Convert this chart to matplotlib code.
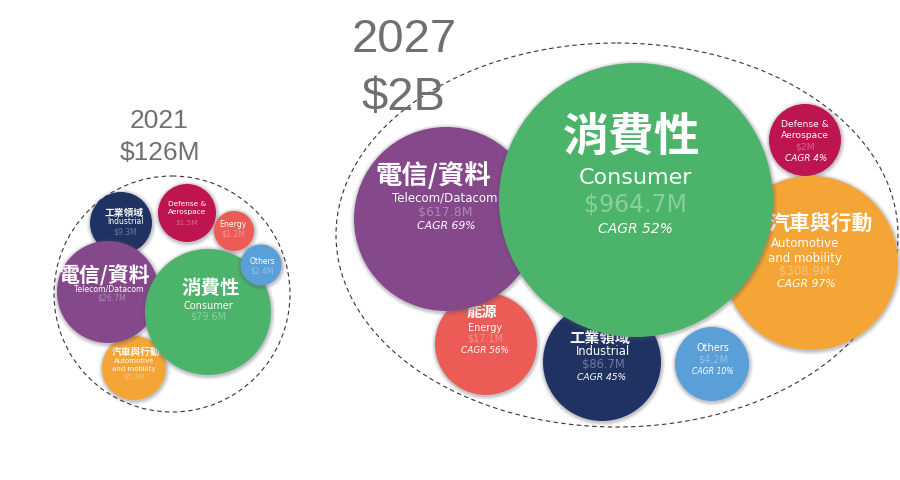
import matplotlib
matplotlib.use("Agg")
import matplotlib.pyplot as plt
from matplotlib.patches import Circle, Ellipse

# --- data ---
categories_en = ["Consumer", "Telecom/Datacom", "Automotive\nand mobility",
                 "Industrial", "Energy", "Defense &\nAerospace", "Others"]
categories_zh = ["消費性", "電信/資料", "汽車與行動", "工業領域", "能源", "", ""]
values_2021 = [79.6, 26.7, 5.3, 9.3, 1.2, 1.5, 2.4]   # $M
values_2027 = [964.7, 617.8, 308.9, 86.7, 17.1, 2, 4.2]  # $M
cagr_2021_2027 = [52, 69, 97, 45, 56, 4, 10]  # %

colors = ["#4CB46A", "#84488B", "#F4A535", "#1F3262", "#EC5B55", "#BE1450", "#5B9FD8"]

CJK = ["Noto Sans CJK TC", "DejaVu Sans"]
LAT = ["DejaVu Sans"]
TITLE = ["Liberation Sans", "DejaVu Sans"]

# --- layout (pixel space, y down) ---
# circle: cx, cy, r, zorder ; texts: (x, y, size) for zh / en / value / cagr
layout_2021 = [
    dict(c=(208, 313, 63, 4), zh=(211, 288, 14), en=(208, 306, 7), val=(208, 317, 7)),
    dict(c=(108, 293, 51, 3), zh=(105, 275, 15), en=(109, 289, 5.6), val=(112, 298, 5.6)),
    dict(c=(134, 369, 32, 1), zh=(136, 352, 7), en=(134, 365, 5), val=(134, 377, 5)),
    dict(c=(121, 224, 31, 2), zh=(124, 213, 7), en=(125, 222, 5.5), val=(125, 232, 5.5)),
    dict(c=(234, 232, 20, 2), en=(233, 225, 5.6), val=(233, 234, 5.6)),
    dict(c=(187, 214, 29, 2), en=(187, 208, 5.3), val=(187, 223, 5.3)),
    dict(c=(261, 266, 20.5, 5), en=(262, 262, 5.5), val=(262, 271, 5.5)),
]
layout_2027 = [
    dict(c=(636, 201, 137, 4), zh=(632, 138, 33), en=(635, 178, 16), val=(635, 205, 17), cagr=(635, 229, 10)),
    dict(c=(446, 220, 92, 3), zh=(433, 176, 19), en=(445, 198, 8.5), val=(445, 213, 9), cagr=(446, 226, 7.8)),
    dict(c=(811, 264, 87, 2), zh=(821, 223, 15), en=(805, 251, 8.5), val=(805, 272, 8.5), cagr=(806, 284, 7.8)),
    dict(c=(602, 363, 59, 2), zh=(600, 338, 11), en=(603, 352, 8.3), val=(603, 365, 8.3), cagr=(602, 378, 6.6)),
    dict(c=(486, 345, 51, 2), zh=(482, 312, 11), en=(485, 328, 7), val=(485, 339, 7), cagr=(485, 351, 6.4)),
    dict(c=(805, 141, 36, 2), en=(805, 130, 6.6), val=(805, 147, 6.6), cagr=(806, 159, 6.4)),
    dict(c=(712, 365, 37, 2), en=(713, 348, 7), val=(713, 360, 7), cagr=(713, 372, 5.6)),
]


def fmt_money(v):
    return f"${v:g}M"


def draw_cluster(ax, values, layout, show_cagr):
    for i, lay in enumerate(layout):
        cx, cy, r, z = lay["c"]
        # soft shadow
        for k, a in [(4, 0.06), (3, 0.08), (2, 0.10), (1, 0.14)]:
            ax.add_patch(Circle((cx + 0.5, cy + 1), r + k, color="#555566", alpha=a,
                                lw=0, zorder=z))
        ax.add_patch(Circle((cx, cy), r, color=colors[i], lw=0, zorder=z + 0.1))
        tz = z + 0.2
        if "zh" in lay and categories_zh[i]:
            x, y, s = lay["zh"]
            ax.text(x, y, categories_zh[i], family=CJK, weight="bold", size=s,
                    color="white", ha="center", va="center", zorder=tz)
        x, y, s = lay["en"]
        ax.text(x, y, categories_en[i], family=LAT, size=s, color="white",
                ha="center", va="center", linespacing=1.25, zorder=tz)
        x, y, s = lay["val"]
        ax.text(x, y, fmt_money(values[i]), family=LAT, size=s, color="white",
                alpha=0.35, ha="center", va="center", zorder=tz)
        if show_cagr and "cagr" in lay:
            x, y, s = lay["cagr"]
            ax.text(x, y, f"CAGR {cagr_2021_2027[i]}%", family=LAT, style="italic",
                    size=s, color="white", ha="center", va="center", zorder=tz)


fig = plt.figure(figsize=(9, 4.81), dpi=100)
ax = fig.add_axes([0, 0, 1, 1])
ax.set_xlim(0, 900)
ax.set_ylim(481, 0)
ax.axis("off")

# 2021 cluster
ax.add_patch(Circle((172, 295), 118, fill=False, ec="#333333", lw=0.8,
                    ls=(0, (4, 3)), zorder=0.5))
draw_cluster(ax, values_2021, layout_2021, show_cagr=False)
total_2021 = sum(values_2021)
ax.text(159, 121, "2021", family=TITLE, size=19, color="#707070", ha="center", va="center")
ax.text(160, 153, f"${total_2021:.0f}M", family=TITLE, size=19, color="#707070",
        ha="center", va="center")

# 2027 cluster
ax.add_patch(Ellipse((617, 236), 562, 384, fill=False, ec="#333333", lw=0.8,
                     ls=(0, (4, 3)), zorder=0.5))
draw_cluster(ax, values_2027, layout_2027, show_cagr=True)
total_2027 = sum(values_2027)
ax.text(404, 40, "2027", family=TITLE, size=34, color="#707070", ha="center", va="center")
ax.text(403, 98, f"${total_2027 / 1000:.0f}B", family=TITLE, size=34, color="#707070",
        ha="center", va="center")

fig.savefig("out.png", dpi=100)
